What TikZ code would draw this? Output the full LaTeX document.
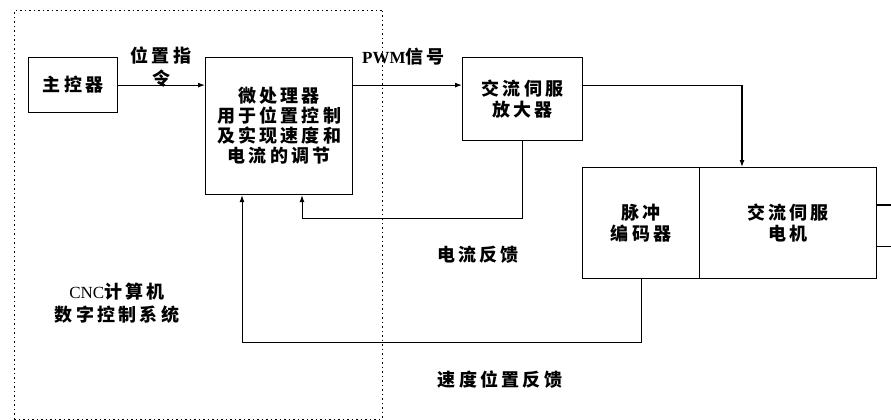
\documentclass[tikz,border=0pt]{standalone}
\usepackage{fontspec}
\setmainfont{Liberation Serif}
\newfontfamily\cjk[LetterSpace=18]{Noto Sans CJK SC}
\usetikzlibrary{arrows.meta}
\begin{document}
\begin{tikzpicture}[x=1pt,y=-1pt,
  blk/.style={draw,line width=1.2pt,inner sep=0pt,anchor=north west,align=center,
    font=\cjk\bfseries\fontsize{18}{21.5}\selectfont},
  lbl/.style={inner sep=0pt,align=center,font=\cjk\bfseries\fontsize{18}{23}\selectfont},
  conn/.style={line width=1.1pt,-{Latex[length=7pt,width=5pt]}},
  fb/.style={line width=0.9pt,-{Latex[length=7pt,width=5pt]}},
  bound/.style={line width=1pt,dash pattern=on 1.5pt off 3pt}]
\useasboundingbox[fill=white] (0,0) rectangle (891,420);
% boundary of CNC system
\coordinate (b1) at (14,11);
\coordinate (b2) at (382,11);
\coordinate (b3) at (382,420);
\coordinate (b4) at (14,419);
\draw[bound] (b4) -- (b1) -- (b2);
\draw[bound] (b2) -- (b3);
\draw[bound] (b4) -- (382,419);
% blocks
\node[blk,minimum width=89pt,minimum height=55pt] (mc) at (28,57) {主控器};
\node[blk,minimum width=147pt,minimum height=137pt,font=\cjk\bfseries\fontsize{18}{20}\selectfont] (mp) at (205,57)
  {微处理器\\用于位置控制\\及实现速度和\\电流的调节};
\node[blk,minimum width=120pt,minimum height=83pt] (amp) at (462,57) {交流伺服\\放大器};
\node[blk,minimum width=117pt,minimum height=111pt] (enc) at (582,167) {脉冲\\编码器};
\node[blk,minimum width=177pt,minimum height=111pt] (mot) at (699,167) {交流伺服\\电机};
% labels
\node[lbl] (l1) at (161,67) {位置指\\令};
\node[lbl,anchor=west] (l2) at (362,57) {{\fontsize{17}{20}\rmfamily PWM}信号};
\node[lbl] (l3) at (478,255) {电流反馈};
\node[lbl] (l4) at (500,380) {速度位置反馈};
\node[lbl] (l5) at (117,303) {{\fontsize{17}{20}\rmfamily\mdseries CNC}计算机\\数字控制系统};
% forward path
\draw[conn] (mc.east) -- (mc.east -| mp.west);
\draw[conn] (mc.east -| mp.east) -- (mc.east -| amp.west);
\coordinate (m) at (742,167);
\draw[conn] (mc.east -| amp.east) -| (m);
% feedback
\coordinate (cf) at (302,218);
\draw[fb] (amp.south) |- (cf) -- (cf |- mp.south);
\coordinate (sf) at (242,342);
\draw[fb] (enc.south) |- (sf) -- (sf |- mp.south);
% shaft
\coordinate (s1) at (891,205);
\coordinate (s2) at (891,246);
\draw[line width=1.1pt] (s1 -| mot.east) -- (s1);
\draw[line width=0.8pt] (s2 -| mot.east) -- (s2);
\end{tikzpicture}
\end{document}
